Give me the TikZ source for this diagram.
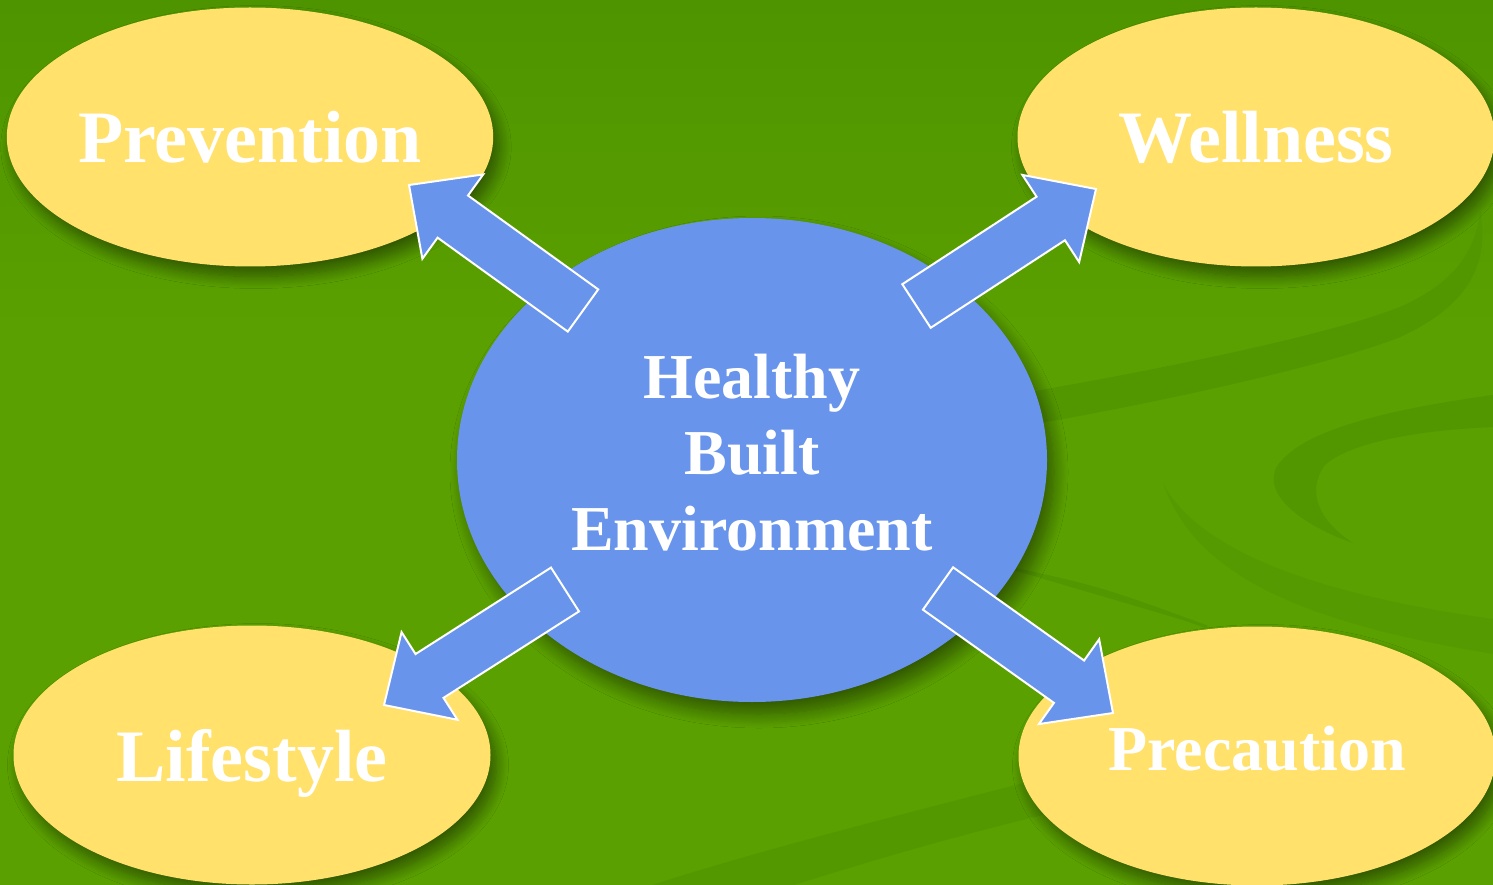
\documentclass[tikz,border=0pt]{standalone}
\usepackage{fontspec}
\setmainfont{Liberation Serif}
\usetikzlibrary{shapes,arrows,shadows,shadows.blur,calc}

\definecolor{vert}{RGB}{90,160,0}
\definecolor{vertfonce}{RGB}{78,148,0}
\definecolor{vague}{RGB}{82,150,0}
\definecolor{jaune}{RGB}{255,225,107}
\definecolor{bleu}{RGB}{105,148,235}

\begin{document}
\begin{tikzpicture}[x=1pt,y=-1pt]
	\tikzstyle{ovale}=[ellipse,fill=jaune,text=white,inner sep=0pt,
	minimum width=477pt,minimum height=259pt,text depth=0pt,
	font=\bfseries\fontsize{74}{80}\selectfont,
	blur shadow={shadow xshift=6pt,shadow yshift=-10pt,shadow blur radius=12pt,
	shadow blur steps=14,shadow opacity=45}]
	\tikzstyle{centre}=[ellipse,fill=bleu,text=white,inner sep=0pt,
	minimum width=590pt,minimum height=484pt,align=center,text depth=16pt,
	font=\bfseries\fontsize{64}{76}\selectfont,
	blur shadow={shadow xshift=7pt,shadow yshift=-12pt,shadow blur radius=14pt,
	shadow blur steps=14,shadow opacity=45}]
	\tikzstyle{vague}=[fill=vague]

	\useasboundingbox (0,0) rectangle (1493,885);
	\fill[vert] (0,0) rectangle (1493,885);
	\shade[top color=vertfonce,bottom color=vert] (0,0) rectangle (1493,330);

	\fill[vague] (1000,397) .. controls (1150,372) and (1330,335) .. (1400,307)
	.. controls (1450,285) and (1476,255) .. (1480,210)
	.. controls (1490,262) and (1470,305) .. (1400,337)
	.. controls (1330,365) and (1150,405) .. (1000,430) -- cycle;
	\fill[vague] (1493,395) .. controls (1400,408) and (1300,428) .. (1276,468)
	.. controls (1262,500) and (1315,530) .. (1353,543)
	.. controls (1320,522) and (1305,492) .. (1325,465)
	.. controls (1350,442) and (1420,430) .. (1493,427) -- cycle;
	\fill[vague,opacity=0.5] (1163,483) .. controls (1195,545) and (1300,592) .. (1493,619)
	-- (1493,654) .. controls (1300,622) and (1195,575) .. (1163,483) -- cycle;
	\draw[vague,draw=vague,line width=3pt] (1000,566) .. controls (1100,588) .. (1207,627);
	\fill[vague,opacity=0.7] (1027,782) .. controls (900,815) and (760,850) .. (652,885)
	-- (794,885) .. controls (880,858) and (960,835) .. (1043,815) -- cycle;

	\node[ovale] (prev) at (250,137) {Prevention};
	\node[ovale] (well) at (1256,137) {Wellness};
	\node[ovale] (life) at (252,755) {Lifestyle};
	\node[ovale,font=\bfseries\fontsize{64}{70}\selectfont,text depth=16pt]
	(prec) at (1257,756) {Precaution};
	\node[centre] (hbe) at (752,460) {Healthy\\Built\\Environment};

	\coordinate (q1) at (583,310.5);
	\coordinate (p1) at (409,185);
	\coordinate (q2) at (916.5,306);
	\coordinate (p2) at (1096,189);
	\coordinate (q3) at (565,589.5);
	\coordinate (p3) at (384,705);
	\coordinate (q4) at (938,588.5);
	\coordinate (p4) at (1113,713);

	\tikzstyle{fleche}=[fill=bleu,draw=white,line width=2pt,line join=miter,
	to path={let \p1=(\tikztostart), \p2=(\tikztotarget),
	\n1={veclen(\x2-\x1,\y2-\y1)}, \n2={atan2(\y2-\y1,\x2-\x1)} in
	[shift={(\p1)},rotate=\n2] (0pt,26pt) -- (\n1-54pt,26pt) -- (\n1-54pt,52pt)
	-- (\n1,0pt) -- (\n1-54pt,-52pt) -- (\n1-54pt,-26pt) -- (0pt,-26pt) -- cycle}]

	\draw[fleche] (q1) to (p1);
	\draw[fleche] (q2) to (p2);
	\draw[fleche] (q3) to (p3);
	\draw[fleche] (q4) to (p4);
\end{tikzpicture}
\end{document}
